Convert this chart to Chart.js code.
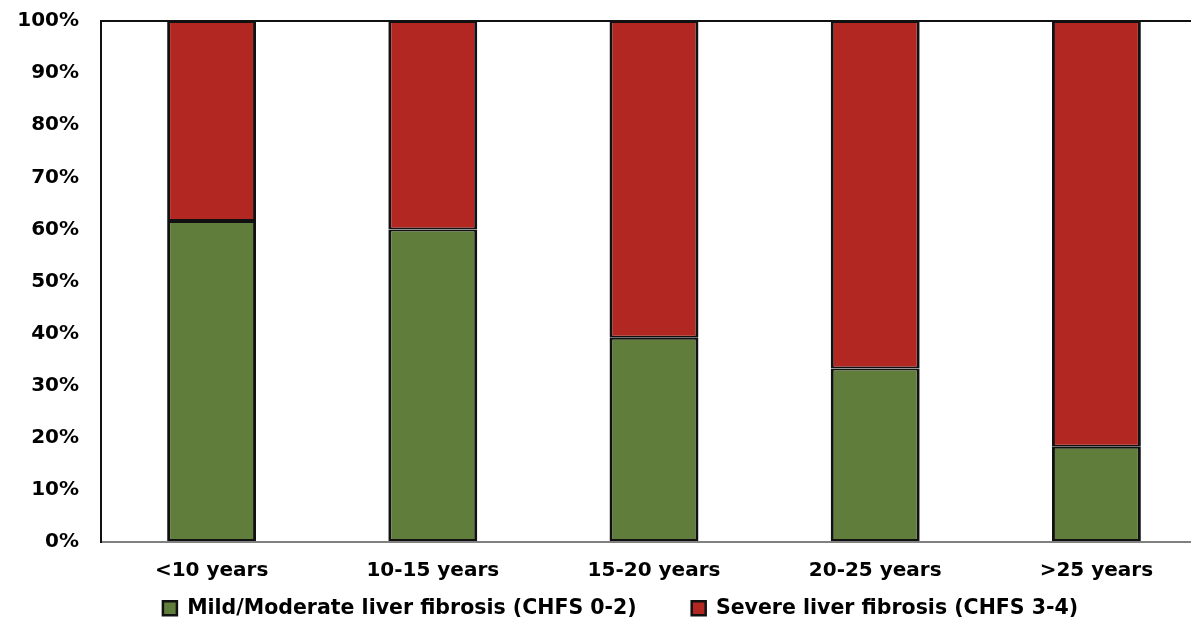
<!DOCTYPE html>
<html>
<head>
<meta charset="utf-8">
<script src="https://cdn.jsdelivr.net/npm/chart.js@4"></script>
<style>
  html, body { margin: 0; padding: 0; background: #ffffff; overflow: hidden; }
  #wrap { position: relative; width: 1212px; height: 621px; }
</style>
</head>
<body>
<div id="wrap"><canvas id="chart"></canvas></div>
<script>
// Duration groups and share of patients per fibrosis grade (%)
const categories = ['<10 years', '10-15 years', '15-20 years', '20-25 years', '>25 years'];
const mildModerate = [61.6, 60.0, 39.2, 33.3, 18.3];
const severe = [38.4, 40.0, 60.8, 66.7, 81.7];
const yTicks = [0, 10, 20, 30, 40, 50, 60, 70, 80, 90, 100];
const seriesNames = ['Mild/Moderate liver fibrosis (CHFS 0-2)', 'Severe liver fibrosis (CHFS 3-4)'];

const FONT = { family: '"DejaVu Sans", Arial, sans-serif', size: 20, weight: 'bold' };
const LEGEND_FONT = { family: '"DejaVu Sans", Arial, sans-serif', size: 20.5, weight: 'bold' };
const LEGEND_GAP = 55;        // horizontal space between legend entries
const LEGEND_TEXT_TOP = 598;  // top of the legend row
const LEGEND_SHIFT_X = 17;    // legend row sits slightly right of canvas centre

// The legend keeps a slim slot in the layout; its box is then widened and
// placed explicitly so the wide gap between entries does not push the plot up.
const legendPlacement = {
  id: 'legendPlacement',
  afterLayout(chart) {
    const lg = chart.legend;
    if (!lg) return;
    lg.top = LEGEND_TEXT_TOP - LEGEND_GAP;
    lg.bottom = chart.height;
    lg.height = lg.bottom - lg.top;
    lg.left += LEGEND_SHIFT_X;
    lg.right += LEGEND_SHIFT_X;
  }
};

const barBorder = { left: 3, right: 3, top: 2, bottom: 2 };

new Chart(document.getElementById('chart'), {
  type: 'bar',
  data: {
    labels: categories,
    datasets: [
      {
        label: seriesNames[0],
        data: mildModerate,
        backgroundColor: '#607D3B',
        borderColor: '#111111',
        borderWidth: barBorder,
        borderSkipped: false
      },
      {
        label: seriesNames[1],
        data: severe,
        backgroundColor: '#B22722',
        borderColor: '#111111',
        borderWidth: barBorder,
        borderSkipped: false
      }
    ]
  },
  options: {
    responsive: true,
    maintainAspectRatio: false,
    animation: false,
    layout: { padding: { left: 0, right: 5, top: 21, bottom: 0 } },
    datasets: { bar: { categoryPercentage: 1.0, barPercentage: 0.402 } },
    scales: {
      x: {
        stacked: true,
        afterFit: (scale) => { scale.height = 39; },
        grid: { display: false, drawTicks: false },
        border: { display: true, color: '#808080', width: 2 },
        ticks: { color: '#000000', font: FONT, padding: 17, maxRotation: 0 }
      },
      y: {
        stacked: true,
        min: 0,
        max: 100,
        afterFit: (scale) => { scale.width = 101; },
        afterBuildTicks: (scale) => { scale.ticks = yTicks.map(v => ({ value: v })); },
        grid: {
          drawTicks: true,
          tickLength: 14,
          tickColor: 'rgba(0,0,0,0)',
          color: (c) => (c.tick && c.tick.value === 100 ? '#111111' : 'rgba(0,0,0,0)'),
          lineWidth: 2
        },
        border: { display: true, color: '#111111', width: 2 },
        ticks: {
          color: '#000000',
          font: FONT,
          padding: 8,
          callback: (v) => v + '%'
        }
      }
    },
    plugins: {
      legend: {
        position: 'bottom',
        maxHeight: 40,
        labels: {
          color: '#000000',
          font: LEGEND_FONT,
          boxWidth: 14,
          boxHeight: 14,
          padding: LEGEND_GAP
        }
      },
      tooltip: { enabled: false }
    }
  },
  plugins: [legendPlacement]
});
</script>
</body>
</html>
